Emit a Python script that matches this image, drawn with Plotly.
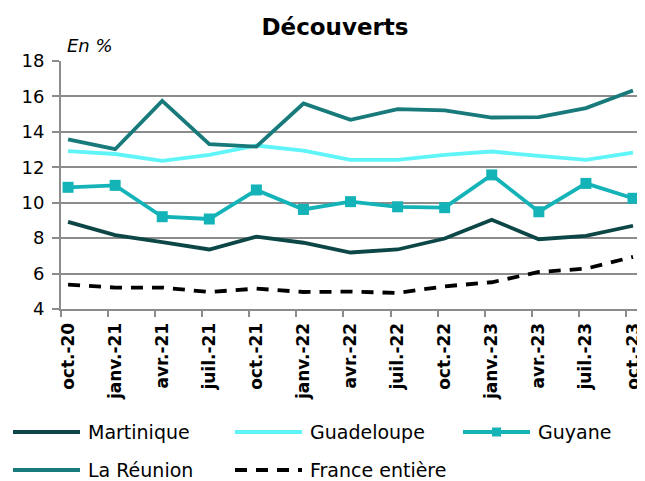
import plotly.graph_objects as go

months = ["oct.-20", "janv.-21", "avr.-21", "juil.-21", "oct.-21", "janv.-22", "avr.-22",
          "juil.-22", "oct.-22", "janv.-23", "avr.-23", "juil.-23", "oct.-23"]

martinique = [8.92, 8.17, 7.77, 7.36, 8.08, 7.74, 7.19, 7.36, 7.98, 9.04, 7.94, 8.13, 8.70]
guadeloupe = [12.91, 12.75, 12.36, 12.70, 13.23, 12.94, 12.42, 12.42, 12.70, 12.89, 12.64, 12.42, 12.83]
guyane = [10.87, 10.98, 9.21, 9.08, 10.72, 9.62, 10.06, 9.77, 9.72, 11.57, 9.49, 11.09, 10.25]
reunion = [13.58, 13.02, 15.75, 13.30, 13.17, 15.60, 14.68, 15.28, 15.21, 14.81, 14.83, 15.34, 16.34]
france = [5.38, 5.21, 5.21, 4.96, 5.15, 4.96, 4.98, 4.91, 5.28, 5.51, 6.09, 6.28, 6.94]

names = ["Martinique", "Guadeloupe", "Guyane", "La Réunion", "France entière"]
colors = ["#0c4646", "#5ff5f8", "#13b3b7", "#187a7a", "#000000"]
dashes = ["solid", "solid", "solid", "solid", "12px,9px"]
series = [martinique, guadeloupe, guyane, reunion, france]
has_marker = [False, False, True, False, False]

x = list(range(len(months)))
fig = go.Figure()
for name, col, dash, ys, mk in zip(names, colors, dashes, series, has_marker):
    fig.add_trace(go.Scatter(
        x=x, y=ys, name=name, mode="lines+markers" if mk else "lines",
        line=dict(color=col, width=3.8, dash=dash),
        marker=dict(symbol="square", size=11, color=col),
        showlegend=False,
    ))

# The page body adds an 8px margin, so the figure is drawn 8px smaller and shifted.
OFF = 8
W, H = 645 - OFF, 481 - OFF
ML, MR, MT, MB = 61 - OFF, 0, 61 - OFF, 172
grid = "#8c8c8c"
fig.update_layout(
    width=W, height=H,
    margin=dict(l=ML, r=MR, t=MT, b=MB, autoexpand=False),
    plot_bgcolor="white", paper_bgcolor="white",
    font=dict(family="DejaVu Sans", color="#000000"),
    title=dict(text="<b>Découverts</b>", x=(335 - OFF) / W, xanchor="center", y=1 - (27 - OFF) / H,
               yanchor="middle", font=dict(family="DejaVu Sans", size=23, color="#000000")),
)
fig.update_xaxes(
    range=[-0.15, 12.255], tickmode="array", tickvals=x, ticktext=[f"<b>{m}</b>" for m in months],
    tickangle=-90, ticks="", tickfont=dict(family="DejaVu Sans", size=17, color="#000000"),
    ticklabelstandoff=5, automargin=False,
    showgrid=False, showline=True, linecolor=grid, linewidth=2, zeroline=False,
    minor=dict(tick0=-0.15, dtick=1, ticks="outside", ticklen=6, tickwidth=2, tickcolor=grid, showgrid=False),
)
fig.update_yaxes(
    range=[4, 18], tickmode="array", tickvals=list(range(4, 19, 2)),
    ticks="outside", ticklen=7, tickwidth=2, tickcolor=grid, ticklabelstandoff=4,
    tickfont=dict(family="DejaVu Sans", size=18, color="#000000"), automargin=False,
    showgrid=True, gridcolor=grid, gridwidth=2, showline=True, linecolor=grid, linewidth=2,
    zeroline=False,
)

pw, ph = W - ML - MR, H - MT - MB
def px(xp):
    return (xp - OFF - ML) / pw
def py(yp):
    return (H - MB - (yp - OFF)) / ph

fig.add_annotation(text="<i>En %</i>", xref="paper", yref="paper", x=px(65), y=py(46), xanchor="left",
                   yanchor="middle", showarrow=False, font=dict(size=18, color="#000000"))

# Manual legend (positions in reference pixels)
legend_pos = [(13, 432), (235, 432), (463, 432), (13, 470), (235, 470)]
for (lx, ly), name, col, dash, mk in zip(legend_pos, names, colors, dashes, has_marker):
    fig.add_shape(type="line", xref="paper", yref="paper", x0=px(lx), x1=px(lx + 67), y0=py(ly), y1=py(ly),
                  line=dict(color=col, width=4, dash=dash))
    if mk:
        fig.add_shape(type="rect", xref="paper", yref="paper", x0=px(lx + 29), x1=px(lx + 38),
                      y0=py(ly - 4.5), y1=py(ly + 4.5), line=dict(width=0), fillcolor=col)
    fig.add_annotation(text=name, xref="paper", yref="paper", x=px(lx + 73), y=py(ly), xanchor="left",
                       yanchor="middle", showarrow=False, font=dict(size=19, color="#000000"))

fig.write_html("out.html")
